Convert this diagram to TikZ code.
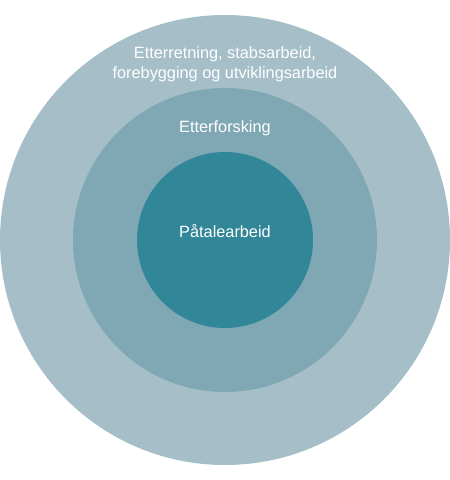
\documentclass[tikz,border=0pt]{standalone}
\usepackage{fontspec}
\setmainfont{Liberation Sans}
\definecolor{ringouter}{HTML}{A5BEC8}
\definecolor{ringmiddle}{HTML}{7FA8B4}
\definecolor{ringinner}{HTML}{318697}
\tikzset{
  ring/.style={circle, inner sep=0pt, draw=none},
  ringlabel/.style={text=white, font=\fontsize{16.3}{20}\selectfont, align=center}
}
\begin{document}
\begin{tikzpicture}[x=1pt, y=1pt]
                    \useasboundingbox (-225,-240) rectangle (225,240);
                    % Circles
                    \node[ring, fill=ringouter, minimum size=450pt] (outer) at (0,0) {};
                    \node[ring, fill=ringmiddle, minimum size=304pt] (middle) at (0,0) {};
                    \node[ring, fill=ringinner, minimum size=176pt] (inner) at (0,0) {};
                    % Labels
                    \node[ringlabel] (outerlabel) at (0,176) {Etterretning, stabsarbeid,\\forebygging og utviklingsarbeid};
                    \node[ringlabel] (middlelabel) at (0,112) {Etterforsking};
                    \node[ringlabel] (innerlabel) at (0,9) {Påtalearbeid};
                \end{tikzpicture}
\end{document}
